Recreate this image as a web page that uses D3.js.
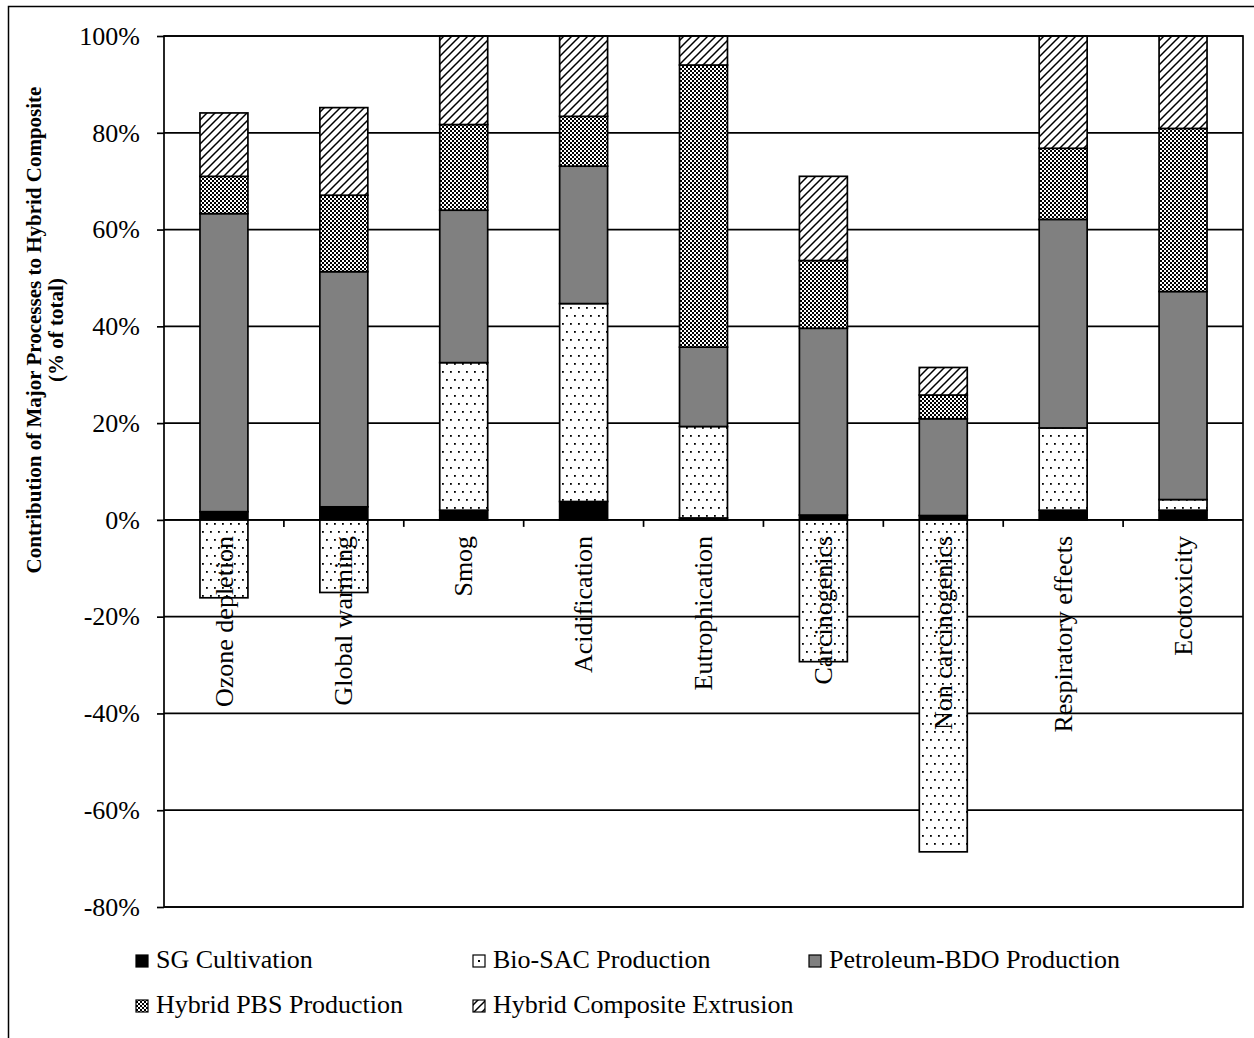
<!DOCTYPE html>
<html>
<head>
<meta charset="utf-8">
<script src="https://cdn.jsdelivr.net/npm/d3@7/dist/d3.min.js"></script>
<style>
  html, body { margin: 0; padding: 0; background: #fff; }
  svg { display: block; }
  svg text { font-family: "Liberation Serif", "Times New Roman", serif; fill: #000; }
</style>
</head>
<body>
<svg id="chart" width="1254" height="1038"></svg>
<script>
// Impact categories along the x axis
const categories = ["Ozone depletion", "Global warming", "Smog", "Acidification",
  "Eutrophication", "Carcinogenics", "Non carcinogenics", "Respiratory effects", "Ecotoxicity"];

// Process contributions (% of total) per category
const sgCultivation      = [1.7, 2.7, 2.0, 3.8, 0.4, 1.0, 0.9, 2.0, 2.0];
const bioSacProduction   = [-16.1, -15.0, 30.5, 40.9, 18.9, -29.3, -68.6, 17.0, 2.2];
const petroleumBdo       = [61.6, 48.6, 31.5, 28.4, 16.4, 38.6, 20.0, 43.1, 43.0];
const hybridPbs          = [7.7, 15.8, 17.7, 10.3, 58.3, 14.0, 4.9, 14.7, 33.7];
const compositeExtrusion = [13.1, 18.1, 18.3, 16.6, 6.0, 17.4, 5.7, 23.2, 19.1];

const seriesNames = ["SG Cultivation", "Bio-SAC Production", "Petroleum-BDO Production",
  "Hybrid PBS Production", "Hybrid Composite Extrusion"];
const seriesValues = [sgCultivation, bioSacProduction, petroleumBdo, hybridPbs, compositeExtrusion];

const yTicks = [100, 80, 60, 40, 20, 0, -20, -40, -60, -80];

const svg = d3.select("#chart");
const W = 1254, H = 1038;
const plot = { left: 164, right: 1243, top: 36, bottom: 907 };
const lineW = 1.7;

// Fill patterns
const defs = svg.append("defs");
const dots = defs.append("pattern").attr("id", "p-dots").attr("patternUnits", "userSpaceOnUse")
  .attr("width", 8).attr("height", 16);
dots.append("rect").attr("width", 8).attr("height", 16).attr("fill", "#fff");
dots.append("rect").attr("x", 2).attr("y", 3).attr("width", 1.8).attr("height", 1.8).attr("fill", "#000");
dots.append("rect").attr("x", 6).attr("y", 11).attr("width", 1.8).attr("height", 1.8).attr("fill", "#000");

const checker = defs.append("pattern").attr("id", "p-check").attr("patternUnits", "userSpaceOnUse")
  .attr("width", 4).attr("height", 4);
checker.append("rect").attr("width", 4).attr("height", 4).attr("fill", "#fff");
checker.append("rect").attr("x", 0).attr("y", 0).attr("width", 2).attr("height", 2).attr("fill", "#000");
checker.append("rect").attr("x", 2).attr("y", 2).attr("width", 2).attr("height", 2).attr("fill", "#000");

const diag = defs.append("pattern").attr("id", "p-diag").attr("patternUnits", "userSpaceOnUse")
  .attr("width", 8).attr("height", 8);
diag.append("rect").attr("width", 8).attr("height", 8).attr("fill", "#fff");
diag.append("path").attr("d", "M-2,10 L10,-2 M-2,2 L2,-2 M6,10 L10,6")
  .attr("stroke", "#000").attr("stroke-width", 1.5);

// Small legend swatch for the dotted series: a single centred dot
const dotKey = defs.append("pattern").attr("id", "p-dotkey").attr("patternUnits", "objectBoundingBox")
  .attr("width", 1).attr("height", 1);
dotKey.append("rect").attr("width", 12).attr("height", 12).attr("fill", "#fff");
dotKey.append("rect").attr("x", 5).attr("y", 5).attr("width", 2).attr("height", 2).attr("fill", "#000");

const fills = ["#000", "url(#p-dots)", "#808080", "url(#p-check)", "url(#p-diag)"];
const keyFills = ["#000", "url(#p-dotkey)", "#808080", "url(#p-check)", "url(#p-diag)"];

// Outer frame (top and left edges)
svg.append("path").attr("d", `M8.5,${H} L8.5,6.5 L${W},6.5`)
  .attr("fill", "none").attr("stroke", "#000").attr("stroke-width", 1.5);

// Scales
const x = d3.scaleBand().domain(categories).range([plot.left, plot.right]).paddingInner(0.6).paddingOuter(0.3);
const xTick = d3.scaleLinear().domain([0, categories.length]).range([plot.left, plot.right]);
const y = d3.scaleLinear().domain([-80, 100]).range([plot.bottom, plot.top]);

// Horizontal gridlines
svg.append("g").selectAll("line").data(yTicks).join("line")
  .attr("x1", plot.left).attr("x2", plot.right)
  .attr("y1", d => y(d)).attr("y2", d => y(d))
  .attr("stroke", "#000").attr("stroke-width", lineW);

// Y axis with outward ticks and percent labels
const yAxis = svg.append("g").attr("transform", `translate(${plot.left},0)`)
  .call(d3.axisLeft(y).tickValues(yTicks).tickSize(7).tickPadding(17).tickFormat(d => d + "%"));
yAxis.attr("font-family", null).attr("font-size", null);
yAxis.select(".domain").remove();
yAxis.selectAll(".tick line").attr("stroke", "#000").attr("stroke-width", lineW);
yAxis.selectAll(".tick text").attr("font-size", 26).attr("fill", "#000");

// Stacked bars: positives stack upward, negatives downward
const barsG = svg.append("g");
categories.forEach((cat, i) => {
  let pos = 0, neg = 0;
  seriesValues.forEach((vals, s) => {
    const v = vals[i];
    let y0, y1;
    if (v >= 0) { y0 = pos; y1 = pos + v; pos = y1; }
    else { y0 = neg; y1 = neg + v; neg = y1; }
    barsG.append("rect")
      .attr("x", x(cat)).attr("width", x.bandwidth())
      .attr("y", y(Math.max(y0, y1))).attr("height", Math.abs(y(y0) - y(y1)))
      .attr("fill", fills[s]).attr("stroke", "#000").attr("stroke-width", lineW);
  });
});

// Zero line with category ticks hanging below
svg.append("line").attr("x1", plot.left).attr("x2", plot.right)
  .attr("y1", y(0)).attr("y2", y(0)).attr("stroke", "#000").attr("stroke-width", lineW);
svg.append("g").selectAll("line").data(d3.range(1, categories.length)).join("line")
  .attr("x1", d => xTick(d)).attr("x2", d => xTick(d))
  .attr("y1", y(0)).attr("y2", y(0) + 7)
  .attr("stroke", "#000").attr("stroke-width", lineW);

// Plot border
svg.append("rect").attr("x", plot.left).attr("y", plot.top)
  .attr("width", plot.right - plot.left).attr("height", plot.bottom - plot.top)
  .attr("fill", "none").attr("stroke", "#000").attr("stroke-width", lineW);

// Rotated category labels reading upward, ending just below the zero line
svg.append("g").selectAll("text").data(categories).join("text")
  .attr("transform", d => `translate(${x(d) + x.bandwidth() / 2},${y(0) + 16}) rotate(-90)`)
  .attr("text-anchor", "end").attr("dy", "0.33em")
  .attr("font-size", 26)
  .text(d => d);

// Y axis title
const yTitle = svg.append("text").attr("transform", "translate(41,330) rotate(-90)")
  .attr("text-anchor", "middle").attr("font-size", 21).attr("font-weight", "bold");
yTitle.append("tspan").attr("x", 0).attr("dy", 0).text("Contribution of Major Processes to Hybrid Composite");
yTitle.append("tspan").attr("x", 0).attr("dy", 22).text("(% of total)");

// Legend
const legendPos = [[136, 968], [473, 968], [809, 968], [136, 1013], [473, 1013]];
const legend = svg.append("g").selectAll("g").data(seriesNames).join("g")
  .attr("transform", (d, i) => `translate(${legendPos[i][0]},${legendPos[i][1]})`);
legend.append("rect").attr("x", 0).attr("y", -13).attr("width", 12).attr("height", 12)
  .attr("fill", (d, i) => keyFills[i]).attr("stroke", "#000").attr("stroke-width", 1.2);
legend.append("text").attr("x", 20).attr("y", 0)
  .attr("font-size", 26).text(d => d);
</script>
</body>
</html>
